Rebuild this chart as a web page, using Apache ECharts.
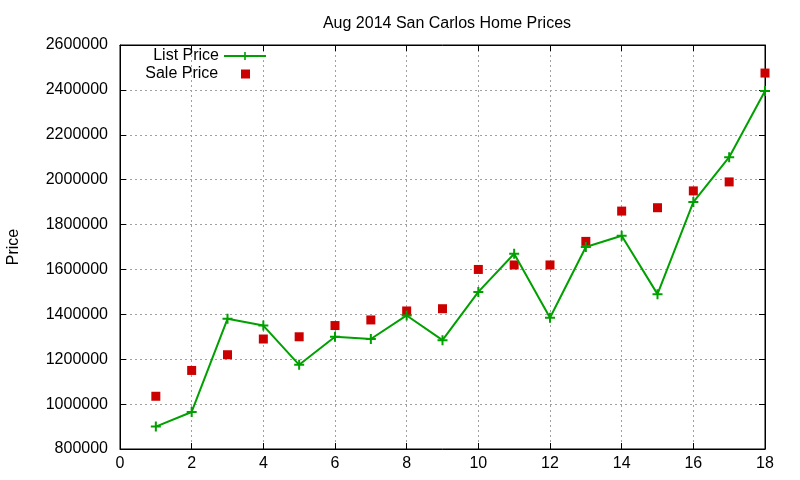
<!DOCTYPE html>
<html><head><meta charset="utf-8">
<script src="https://cdn.jsdelivr.net/npm/echarts@6/dist/echarts.min.js"></script>
<style>html,body{margin:0;padding:0;background:#fff}#c{width:800px;height:480px}</style>
</head><body><div id="c"></div>
<script>
const titleText = 'Aug 2014 San Carlos Home Prices';
const yAxisName = 'Price';
const months = [1,2,3,4,5,6,7,8,9,10,11,12,13,14,15,16,17,18];
const listPrice = [900000,965000,1380000,1350000,1175000,1300000,1290000,1395000,1285000,1500000,1670000,1385000,1700000,1750000,1490000,1900000,2100000,2395000];
const salePrice = [1035000,1150000,1220000,1290000,1300000,1350000,1375000,1415000,1425000,1600000,1620000,1620000,1725000,1860000,1875000,1950000,1990000,2475000];
const seriesNames = ['List Price','Sale Price'];

const FONT = 'Liberation Sans';
const green = '#00a000';
const red = '#cc0000';
const plus = 'path://M4,0H6V4H10V6H6V10H4V6H0V4H4Z';

const chart = echarts.init(document.getElementById('c'));
const frameLine = {show:true, onZero:false, lineStyle:{color:'#000', width:1}};
const tickIn = {show:true, inside:true, length:6, lineStyle:{color:'#000'}};
const grid = {type:[2,3], color:'#a0a0a0', width:1};
chart.setOption({
  animation:false,
  backgroundColor:'#fff',
  textStyle:{fontFamily:FONT},
  title:{text:titleText, left:442, textAlign:'center', top:11,
    textStyle:{fontFamily:FONT, fontSize:16, fontWeight:'normal', color:'#000'}},
  grid:{left:120, right:35, top:45, bottom:31, outerBoundsMode:'none', containLabel:false,
    show:true, borderColor:'#000', borderWidth:1, backgroundColor:'transparent'},
  legend:[
    {data:[seriesNames[0]], right:528, top:43, align:'right', itemWidth:42, itemHeight:10,
      textStyle:{fontFamily:FONT, fontSize:16, color:'#000'}},
    {data:[seriesNames[1]], right:545, top:61, align:'right', itemWidth:9, itemHeight:9,
      formatter: n => n + '    ',
      textStyle:{fontFamily:FONT, fontSize:16, color:'#000'}}
  ],
  xAxis:[
    {type:'value', min:0, max:18, interval:2, position:'bottom',
      axisLine:frameLine, axisTick:tickIn,
      axisLabel:{fontFamily:FONT, fontSize:16, color:'#000', margin:7},
      splitLine:{show:true, lineStyle:grid}},
    {type:'value', min:0, max:18, interval:2, position:'top',
      axisLine:frameLine, axisTick:tickIn, axisLabel:{show:false}, splitLine:{show:false}}
  ],
  yAxis:[
    {type:'value', min:800000, max:2600000, interval:200000, position:'left',
      name:yAxisName, nameLocation:'middle', nameGap:98, nameRotate:90,
      nameTextStyle:{fontFamily:FONT, fontSize:16, color:'#000'},
      axisLine:frameLine, axisTick:tickIn,
      axisLabel:{fontFamily:FONT, fontSize:16, color:'#000', margin:12, formatter: v => String(v)},
      splitLine:{show:true, lineStyle:grid}},
    {type:'value', min:800000, max:2600000, interval:200000, position:'right',
      axisLine:frameLine, axisTick:tickIn, axisLabel:{show:false}, splitLine:{show:false}}
  ],
  series:[
    {name:seriesNames[0], type:'line', data:months.map((m,i)=>[m,listPrice[i]]),
      symbol:plus, symbolSize:10, showAllSymbol:true,
      lineStyle:{color:green, width:2}, itemStyle:{color:green}},
    {name:seriesNames[1], type:'scatter', data:months.map((m,i)=>[m,salePrice[i]]),
      symbol:'rect', symbolSize:9, itemStyle:{color:red, opacity:1}},
    {name:'mirror', type:'line', xAxisIndex:1, yAxisIndex:1, data:[], silent:true}
  ]
});
</script></body></html>
